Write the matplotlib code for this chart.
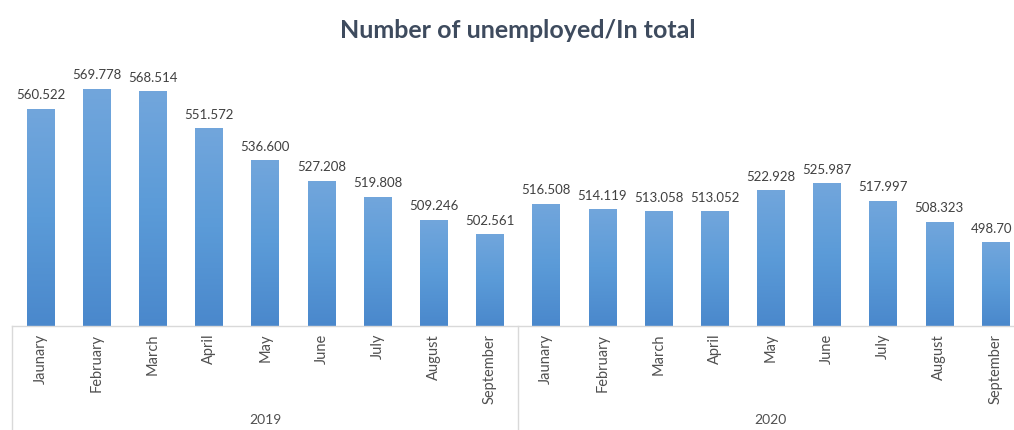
import matplotlib
matplotlib.use("Agg")
import matplotlib.pyplot as plt
import numpy as np
from matplotlib.colors import LinearSegmentedColormap
import matplotlib.transforms as mtransforms
from matplotlib.lines import Line2D

title = "Number of unemployed/In total"
years = ["2019", "2020"]
months = ["Jaunary", "February", "March", "April", "May", "June", "July", "August", "September"]
values_2019 = [560.522, 569.778, 568.514, 551.572, 536.600, 527.208, 519.808, 509.246, 502.561]
values_2020 = [516.508, 514.119, 513.058, 513.052, 522.928, 525.987, 517.997, 508.323, 498.70]
labels_2019 = ["560.522", "569.778", "568.514", "551.572", "536.600", "527.208", "519.808", "509.246", "502.561"]
labels_2020 = ["516.508", "514.119", "513.058", "513.052", "522.928", "525.987", "517.997", "508.323", "498.70"]

plt.rcParams['font.family'] = ['Lato', 'DejaVu Sans']

W, H = 1014, 431
fig = plt.figure(figsize=(W / 100, H / 100), dpi=100)
# axes spans from x=12px to ~1024px (chart cropped at right), y from 60px to 327px
ax_left, ax_right = 12.4, 1023.6
ax_top, ax_bottom = 60, 327
ax = fig.add_axes([ax_left / W, (H - ax_bottom) / H, (ax_right - ax_left) / W, (ax_bottom - ax_top) / H])

values = values_2019 + values_2020
labels = labels_2019 + labels_2020
xs = np.arange(len(values))
ymin, ymax = 460, 583.5
ax.set_xlim(-0.5, len(values) - 0.5)
ax.set_ylim(ymin, ymax)

bars = ax.bar(xs, [v - ymin for v in values], bottom=ymin, width=0.49, color='none', edgecolor='none')
cmap = LinearSegmentedColormap.from_list('g', ['#4A88CC', '#5B9BD8', '#72A6DC'])
grad = np.linspace(0, 1, 256).reshape(-1, 1)
for b in bars:
    x0, y0 = b.get_x(), b.get_y()
    w, h = b.get_width(), b.get_height()
    im = ax.imshow(grad, cmap=cmap, aspect='auto', origin='lower',
                   extent=(x0, x0 + w, y0, y0 + h), zorder=2)
    im.set_clip_path(b)

n = len(values)
for i, (x, v, lab) in enumerate(zip(xs, values, labels)):
    dx = -3 if i == n - 1 else 0
    ax.annotate(lab, (x, v), xytext=(dx, 6), textcoords='offset points',
                ha='center', va='bottom', fontsize=9.5, color='#404040')

ax.set_xlim(-0.5, len(values) - 0.5)
ax.set_ylim(ymin, ymax)
for s in ax.spines.values():
    s.set_visible(False)
ax.set_xticks([])
ax.set_yticks([])

# category axis (multi-level)
trans = mtransforms.blended_transform_factory(ax.transData, ax.transAxes)
bottom_ax = -(H - ax_bottom) / (ax_bottom - ax_top)
line_kw = dict(color='#D9D9D9', lw=1.0, transform=trans, clip_on=False)
ax.add_line(Line2D([-0.5, len(values) - 0.5], [0, 0], **line_kw))
ax.add_line(Line2D([-0.5, -0.5], [0, bottom_ax], **line_kw))
ax.add_line(Line2D([len(months) - 0.5, len(months) - 0.5], [0, bottom_ax], **line_kw))

for i, m in enumerate(months * 2):
    ax.annotate(m, (xs[i], 0), xycoords=trans, xytext=(0, -5), textcoords='offset points',
                rotation=90, ha='center', va='top', fontsize=10.5, color='#505050')

for g, yr in enumerate(years):
    center = g * len(months) + (len(months) - 1) / 2
    ax.annotate(yr, (center, 0), xycoords=trans, xytext=(0, -(420 - ax_bottom) * 0.72),
                textcoords='offset points', ha='center', va='center', fontsize=10, color='#505050')

fig.text(518 / W, 1 - 30 / H, title, ha='center', va='center', fontsize=18,
         fontweight='bold', color='#3E4B5E')

fig.savefig('out.png', dpi=100)
